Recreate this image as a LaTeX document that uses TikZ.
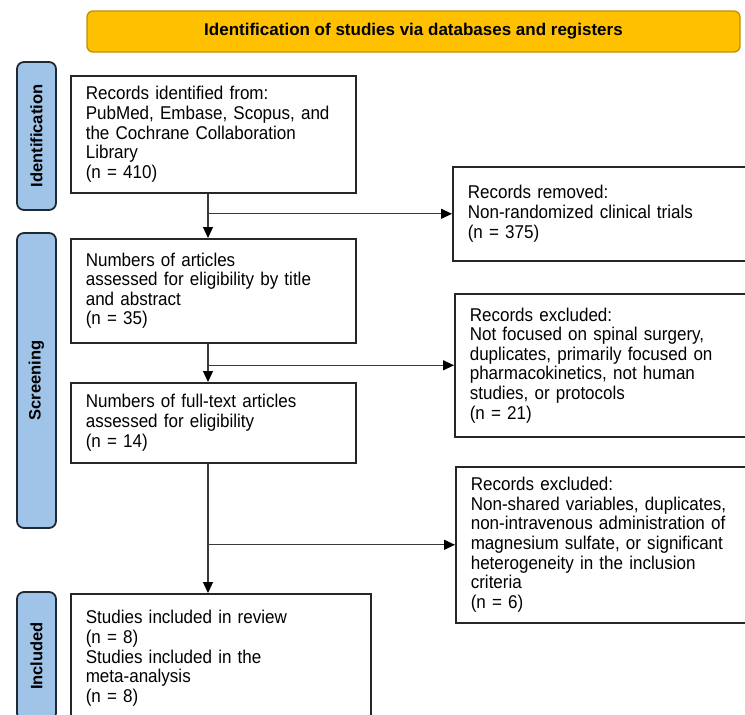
\documentclass[tikz,border=0pt]{standalone}
\usepackage{fontspec}
\setmainfont{Liberation Sans}
\newfontfamily\boxfont{Liberation Sans}[FakeStretch=0.92]
\usetikzlibrary{arrows.meta}

\begin{document}
\begin{tikzpicture}[x=1pt, y=-1pt,
    box/.style={draw=boxBorder, line width=1.6pt, anchor=north west, align=left, inner xsep=15pt, inner ysep=4pt, font=\boxfont\fontsize{18.5pt}{19.6pt}\selectfont},
    phase/.style={draw=phaseBorder, fill=phaseColor, line width=1.8pt, rounded corners=7pt, rotate=90, minimum height=39pt, inner sep=0pt, font=\fontsize{16.5pt}{18pt}\selectfont\bfseries},
    link/.style={draw=linkColor, line width=1.2pt},
    flow/.style={link, -{Triangle[length=11pt, width=10pt, color=black]}}]
    % Color Palette
    \definecolor{bannerColor}{HTML}{FFC000}
    \definecolor{bannerBorder}{HTML}{BF9000}
    \definecolor{phaseColor}{HTML}{A0C4E8}
    \definecolor{phaseBorder}{HTML}{1F2933}
    \definecolor{boxBorder}{HTML}{262626}
    \definecolor{linkColor}{HTML}{3A3A3A}

    \useasboundingbox (0,0) rectangle (745,715);
    \clip (0,0) rectangle (745,715);

    % --- Banner ---
    \node[draw=bannerBorder, fill=bannerColor, line width=1.3pt, rounded corners=6pt, minimum width=653pt, minimum height=41pt, font=\fontsize{17pt}{20pt}\selectfont\bfseries] (banner) at (413.5,31.5) {Identification of studies via databases and registers};

    % --- Phase bars (left) ---
    \node[phase, minimum width=148pt] (idbar) at (36.5,136) {Identification};
    \node[phase, minimum width=295pt] (scbar) at (36.5,380.5) {Screening};
    \node[phase, minimum width=128pt] (inbar) at (36.5,656) {Included};

    % --- Main column ---
    \node[box, text width=255pt, minimum width=285pt, minimum height=117pt] (recs) at (70,75) {Records identified from:\\PubMed, Embase, Scopus, and\\the Cochrane Collaboration\\Library\\(n = 410)};
    \node[box, text width=255pt, minimum width=285pt, minimum height=104pt] (screen) at (70,238) {Numbers of articles\\assessed for eligibility by title\\and abstract\\(n = 35)};
    \node[box, text width=255pt, minimum width=285pt, minimum height=80pt] (full) at (70,382) {Numbers of full-text articles\\assessed for eligibility\\(n = 14)};
    \node[box, text width=270pt, minimum width=300pt, minimum height=129pt] (incl) at (70,593) {Studies included in review\\(n = 8)\\Studies included in the\\meta-analysis\\(n = 8)};

    % --- Side column ---
    \node[box, text width=270pt, minimum width=300pt, minimum height=94pt] (removed) at (452,166) {Records removed:\\Non-randomized clinical trials\\(n = 375)};
    \node[box, text width=270pt, minimum width=300pt, minimum height=143pt] (excl1) at (454,293) {Records excluded:\\Not focused on spinal surgery,\\duplicates, primarily focused on\\pharmacokinetics, not human\\studies, or protocols\\(n = 21)};
    \node[box, text width=270pt, minimum width=300pt, minimum height=156pt] (excl2) at (455,466) {Records excluded:\\Non-shared variables, duplicates,\\non-intravenous administration of\\magnesium sulfate, or significant\\heterogeneity in the inclusion\\criteria\\(n = 6)};

    % Arrows
    \coordinate (spine) at (208,0);
    \draw[flow] (recs.south -| spine) -- (screen.north -| spine);
    \draw[flow] (screen.south -| spine) -- (full.north -| spine);
    \draw[flow] (full.south -| spine) -- (incl.north -| spine);
    \draw[flow] (spine |- removed.west) -- (removed.west);
    \draw[flow] (spine |- excl1.west) -- (excl1.west);
    \draw[flow] (spine |- excl2.west) -- (excl2.west);

\end{tikzpicture}
\end{document}
